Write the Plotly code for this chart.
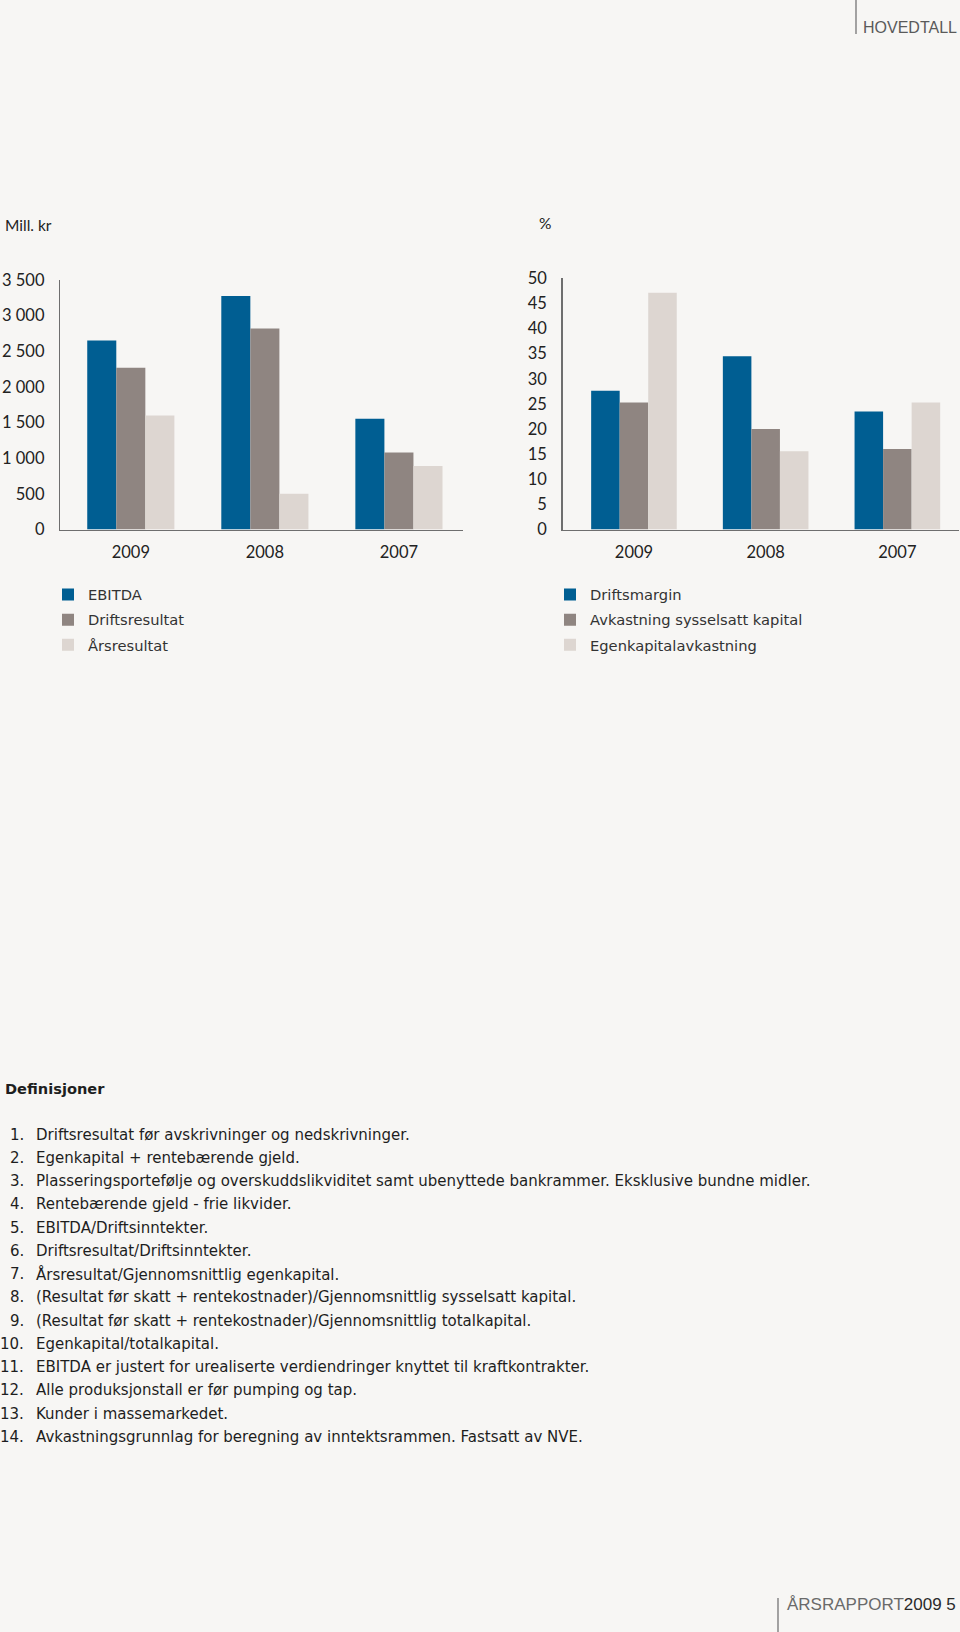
import plotly.graph_objects as go

W, H = 960, 1632

# ---------------- data ----------------
categories = ["2009", "2008", "2007"]

ebitda = [2650, 3275, 1555]
driftsresultat = [2270, 2820, 1080]
arsresultat = [1600, 500, 890]

driftsmargin = [27.6, 34.5, 23.5]
avkastning_sysselsatt = [25.3, 20.0, 16.0]
egenkapitalavkastning = [47.1, 15.6, 25.3]

left_tickvals = [0, 500, 1000, 1500, 2000, 2500, 3000, 3500]
left_ticktext = ["0", "500", "1 000", "1 500", "2 000", "2 500", "3 000", "3 500"]
right_tickvals = [0, 5, 10, 15, 20, 25, 30, 35, 40, 45, 50]
right_ticktext = ["0", "5", "10", "15", "20", "25", "30", "35", "40", "45", "50"]

definitions = [
    "Driftsresultat før avskrivninger og nedskrivninger.",
    "Egenkapital + rentebærende gjeld.",
    "Plasseringsportefølje og overskuddslikviditet samt ubenyttede bankrammer. Eksklusive bundne midler.",
    "Rentebærende gjeld - frie likvider.",
    "EBITDA/Driftsinntekter.",
    "Driftsresultat/Driftsinntekter.",
    "Årsresultat/Gjennomsnittlig egenkapital.",
    "(Resultat før skatt + rentekostnader)/Gjennomsnittlig sysselsatt kapital.",
    "(Resultat før skatt + rentekostnader)/Gjennomsnittlig totalkapital.",
    "Egenkapital/totalkapital.",
    "EBITDA er justert for urealiserte verdiendringer knyttet til kraftkontrakter.",
    "Alle produksjonstall er før pumping og tap.",
    "Kunder i massemarkedet.",
    "Avkastningsgrunnlag for beregning av inntektsrammen. Fastsatt av NVE.",
]

# ---------------- style ----------------
BG = "#f7f6f4"
C_BLUE = "#005e92"
C_GRAY = "#8f8581"
C_LIGHT = "#ddd6d1"
AXIS_C = "#6e6e6e"
TICK_FONT = dict(family="Lato, Open Sans, sans-serif", size=16.5, color="#222222")
TEXT_FONT = "DejaVu Sans, Liberation Sans, sans-serif"


def px_x(x):
    return x / W


def px_y(y):
    return 1 - y / H


fig = go.Figure()

left_series = [("EBITDA", ebitda, C_BLUE), ("Driftsresultat", driftsresultat, C_GRAY),
               ("Årsresultat", arsresultat, C_LIGHT)]
right_series = [("Driftsmargin", driftsmargin, C_BLUE),
                ("Avkastning sysselsatt kapital", avkastning_sysselsatt, C_GRAY),
                ("Egenkapitalavkastning", egenkapitalavkastning, C_LIGHT)]

for name, vals, col in left_series:
    fig.add_trace(go.Bar(x=categories, y=vals, name=name, marker=dict(color=col, line=dict(width=0)),
                         xaxis="x", yaxis="y", legend="legend", legendgroup=name, hoverinfo="skip"))
for name, vals, col in right_series:
    fig.add_trace(go.Bar(x=categories, y=vals, name=name, marker=dict(color=col, line=dict(width=0)),
                         xaxis="x2", yaxis="y2", legend="legend2", legendgroup=name, hoverinfo="skip"))

axis_common = dict(showgrid=False, zeroline=False, showline=True, linecolor=AXIS_C, linewidth=1.5,
                   ticks="", tickfont=TICK_FONT, fixedrange=True, automargin=False)

LEG_FONT = dict(family=TEXT_FONT, size=14.7, color="#333333")

fig.update_layout(
    width=W, height=H, autosize=False,
    paper_bgcolor=BG, plot_bgcolor=BG,
    margin=dict(l=0, r=0, t=0, b=0, pad=0, autoexpand=False),
    barmode="group", bargap=0.35, bargroupgap=0,
    xaxis=dict(domain=[px_x(60.3), px_x(463)], anchor="y", type="category",
               range=[-0.526, 2.478], ticklabelstandoff=7, **axis_common),
    yaxis=dict(domain=[px_y(529.5), px_y(280)], anchor="x", range=[0, 3500],
               tickvals=left_tickvals, ticktext=left_ticktext, ticklabelstandoff=11, **axis_common),
    xaxis2=dict(domain=[px_x(562.7), px_x(959)], anchor="y2", type="category",
                range=[-0.541, 2.468], ticklabelstandoff=7, **axis_common),
    yaxis2=dict(domain=[px_y(529.5), px_y(278.3)], anchor="x2", range=[0, 50],
                tickvals=right_tickvals, ticktext=right_ticktext, ticklabelstandoff=11, **axis_common),
    legend=dict(x=px_x(48), y=px_y(578.5), xanchor="left", yanchor="top", bgcolor="rgba(0,0,0,0)",
                font=LEG_FONT, traceorder="grouped", tracegroupgap=3,
                itemclick=False, itemdoubleclick=False),
    legend2=dict(x=px_x(550), y=px_y(578.5), xanchor="left", yanchor="top", bgcolor="rgba(0,0,0,0)",
                 font=LEG_FONT, traceorder="grouped", tracegroupgap=3,
                 itemclick=False, itemdoubleclick=False),
    showlegend=True,
)

annotations = []
# unit labels
annotations.append(dict(text="Mill. kr", x=px_x(3), y=px_y(225), xref="paper", yref="paper",
                        xanchor="left", yanchor="middle", showarrow=False,
                        font=dict(family="Lato, sans-serif", size=15.5, color="#222222")))
annotations.append(dict(text="%", x=px_x(537), y=px_y(223), xref="paper", yref="paper",
                        xanchor="left", yanchor="middle", showarrow=False,
                        font=dict(family="Lato, sans-serif", size=15.5, color="#222222")))
# header
annotations.append(dict(text="HOVEDTALL", x=px_x(959), y=px_y(27.5), xref="paper", yref="paper",
                        xanchor="right", yanchor="middle", showarrow=False,
                        font=dict(family="Liberation Sans, sans-serif", size=16, color="#5a5a5a")))
# footer
annotations.append(dict(text="ÅRSRAPPORT<span style='color:#2a2a2a'>2009 5</span>",
                        x=px_x(958), y=px_y(1604), xref="paper", yref="paper",
                        xanchor="right", yanchor="middle", showarrow=False,
                        font=dict(family="Liberation Sans, sans-serif", size=17, color="#6a6a6a")))
# definitions heading
annotations.append(dict(text="<b>Definisjoner</b>", x=px_x(3), y=px_y(1088), xref="paper", yref="paper",
                        xanchor="left", yanchor="middle", showarrow=False,
                        font=dict(family=TEXT_FONT, size=14.6, color="#1e1e1e")))
DEF_FONT = dict(family=TEXT_FONT, size=15, color="#1e1e1e")
line0, spacing = 1134.5, 23.25
for i, txt in enumerate(definitions):
    yy = px_y(line0 + i * spacing)
    annotations.append(dict(text=f"{i + 1}.", x=px_x(25.5), y=yy, xref="paper", yref="paper",
                            xanchor="right", yanchor="middle", showarrow=False, font=DEF_FONT))
    annotations.append(dict(text=txt, x=px_x(34.4), y=yy, xref="paper", yref="paper",
                            xanchor="left", yanchor="middle", showarrow=False, font=DEF_FONT))

fig.update_layout(annotations=annotations)

shapes = [
    dict(type="line", xref="paper", yref="paper", x0=px_x(856), x1=px_x(856), y0=px_y(0), y1=px_y(34),
         line=dict(color="#6a6a6a", width=1.2)),
    dict(type="line", xref="paper", yref="paper", x0=px_x(778), x1=px_x(778), y0=px_y(1598), y1=px_y(1632),
         line=dict(color="#6a6a6a", width=1.2)),
]
fig.update_layout(shapes=shapes)

post = (
    "var gd=document.getElementById('{plot_id}');"
    "gd.style.position='fixed';gd.style.top='0px';gd.style.left='0px';"
    "document.documentElement.style.margin='0';document.documentElement.style.padding='0';"
    "document.documentElement.style.overflow='hidden';"
    "document.body.style.margin='0';document.body.style.padding='0';"
    "document.body.style.overflow='hidden';document.body.style.height='1632px';"
    "document.body.style.background='#f7f6f4';"
)
fig.write_html("out.html", config=dict(displayModeBar=False, staticPlot=True), post_script=post)
